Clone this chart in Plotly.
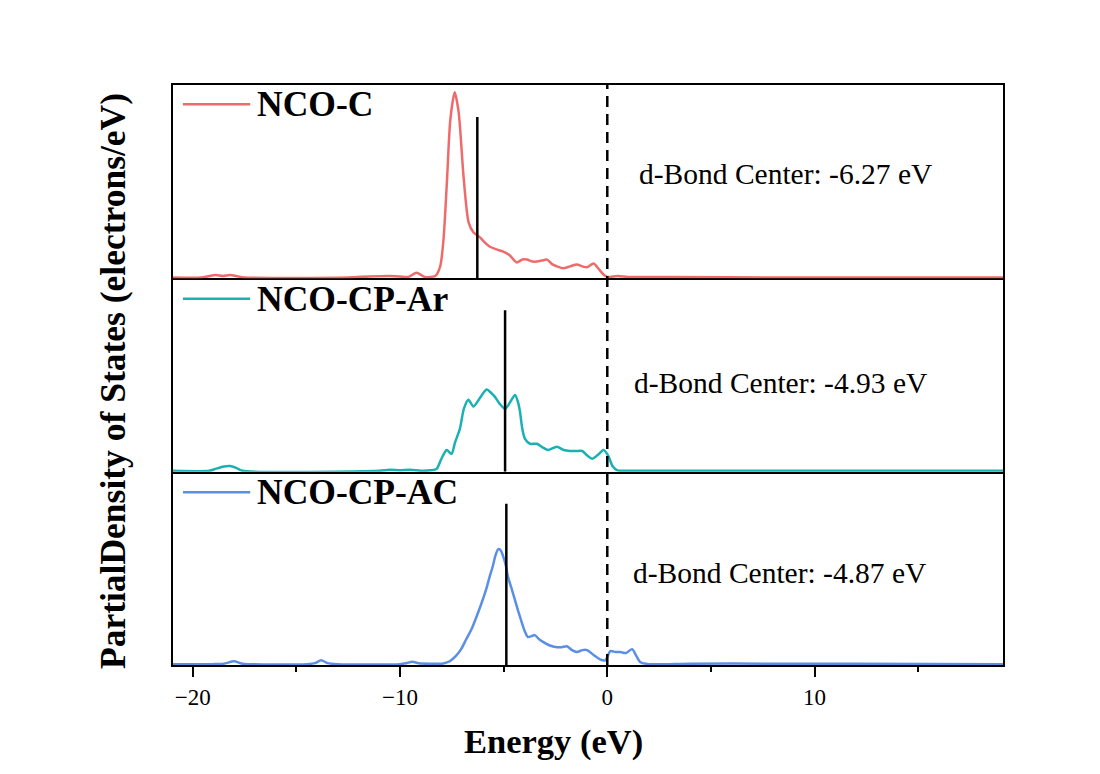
import plotly.graph_objects as go
from plotly.subplots import make_subplots

# ---------------- data ----------------
series_names = ["NCO-C", "NCO-CP-Ar", "NCO-CP-AC"]
series_colors = ["#EF6B6B", "#1BB0B3", "#5B8FE6"]
d_centers = [-6.27, -4.93, -4.87]
center_line_top = 3.32

energy_c = [-20.95, -19.6, -19.2, -18.9, -18.55, -18.2, -17.9, -17.5, -12.5, -11.5, -10.5, -10.0, -9.6,
            -9.2, -8.8, -8.3, -8.06, -7.9, -7.73, -7.57, -7.36, -7.17, -6.93, -6.69, -6.45, -6.14, -5.9,
            -5.68, -5.35, -5.04, -4.71, -4.37, -4.1, -3.88, -3.6, -3.4, -3.15, -2.9, -2.65, -2.43, -2.13,
            -1.8, -1.47, -1.2, -0.98, -0.66, -0.4, -0.18, 0.0, 0.5, 1.0, 3.0, 8.0, 19.09]
pdos_c = [0, 0, 0.03, 0.05, 0.03, 0.05, 0.03, 0, 0, 0.02, 0.03, 0.02, 0.01,
          0.10, 0.01, 0.03, 0.23, 0.79, 2.03, 3.27, 3.83, 3.42, 2.07, 1.14, 0.93, 0.83, 0.72,
          0.64, 0.58, 0.54, 0.46, 0.31, 0.37, 0.37, 0.33, 0.33, 0.35, 0.37, 0.27, 0.23, 0.19,
          0.23, 0.27, 0.23, 0.21, 0.29, 0.17, 0.06, 0.01, 0.03, 0.01, 0.01, 0.0, 0.0]

energy_ar = [-20.95, -19.2, -18.9, -18.5, -18.2, -17.9, -17.6, -11.0, -10.5, -10.0, -9.5, -9.0, -8.5,
             -8.23, -8.0, -7.75, -7.51, -7.35, -7.11, -6.92, -6.70, -6.46, -6.17, -5.82, -5.6, -5.42,
             -5.2, -4.93, -4.7, -4.45, -4.3, -4.21, -4.1, -3.97, -3.73, -3.4, -3.1, -2.86, -2.43, -2.1,
             -1.8, -1.5, -1.21, -0.95, -0.73, -0.45, -0.18, 0.05, 0.25, 0.49, 1.0, 19.09]
pdos_ar = [0, 0, 0.04, 0.09, 0.10, 0.06, 0, 0, 0.02, 0.01, 0.02, 0, 0.01,
           0.04, 0.25, 0.43, 0.35, 0.58, 0.87, 1.28, 1.47, 1.33, 1.49, 1.68, 1.61, 1.53,
           1.39, 1.28, 1.41, 1.57, 1.41, 1.22, 0.87, 0.66, 0.56, 0.56, 0.48, 0.43, 0.50, 0.43,
           0.41, 0.41, 0.41, 0.31, 0.25, 0.33, 0.43, 0.31, 0.10, 0.01, 0, 0]

energy_ac = [-20.95, -19.0, -18.5, -18.0, -17.6, -14.5, -14.1, -13.8, -13.5, -13.0, -10.0, -9.7, -9.4,
             -9.1, -8.5, -7.96, -7.6, -7.3, -7.05, -6.8, -6.55, -6.3, -6.05, -5.84, -5.68, -5.52, -5.4,
             -5.26, -5.15, -5.03, -4.9, -4.8, -4.62, -4.47, -4.3, -4.13, -3.98, -3.83, -3.65, -3.5,
             -3.3, -3.1, -2.8, -2.43, -2.2, -1.95, -1.7, -1.47, -1.2, -0.98, -0.66, -0.35, -0.1, 0.15,
             0.4, 0.63, 0.9, 1.2, 1.4, 1.6, 2.0, 4.0, 8.0, 12.0, 19.09]
pdos_ac = [0, 0, 0.01, 0.06, 0.01, 0, 0.02, 0.08, 0.02, 0, 0, 0.02, 0.05,
           0.02, 0.01, 0.01, 0.06, 0.17, 0.31, 0.52, 0.72, 0.99, 1.28, 1.55, 1.80, 2.03, 2.24,
           2.38, 2.36, 2.24, 2.05, 1.82, 1.57, 1.35, 1.10, 0.87, 0.68, 0.56, 0.58, 0.60,
           0.52, 0.46, 0.39, 0.35, 0.35, 0.37, 0.29, 0.25, 0.29, 0.29, 0.19, 0.10, 0.08, 0.27,
           0.25, 0.25, 0.23, 0.31, 0.17, 0.04, 0, 0.01, 0.01, 0.01, 0]

x_tick_vals = [-20, -10, 0, 10]
x_minor_vals = [-15, -5, 5, 15]
x_range = [-20.95, 19.09]
y_range = [-0.018, 3.982]

energies = [energy_c, energy_ar, energy_ac]
pdos = [pdos_c, pdos_ar, pdos_ac]

SERIF = "Liberation Serif, Times New Roman, serif"

fig = make_subplots(rows=3, cols=1, shared_xaxes=True, vertical_spacing=0)

for i in range(3):
    r = i + 1
    fig.add_trace(go.Scatter(x=energies[i], y=pdos[i], mode="lines", name=series_names[i],
                             line=dict(color=series_colors[i], width=2.5, shape="spline", smoothing=0.7),
                             showlegend=False), row=r, col=1)
    fig.add_trace(go.Scatter(x=[d_centers[i], d_centers[i]], y=[y_range[0], center_line_top], mode="lines",
                             line=dict(color="black", width=2.5), showlegend=False), row=r, col=1)

for i in range(3):
    r = i + 1
    last = (r == 3)
    fig.update_xaxes(range=x_range, showline=True, mirror=(r == 1), linecolor="black", linewidth=1.5,
                     showgrid=False, zeroline=False, layer="below traces",
                     ticks="outside" if last else "", showticklabels=last,
                     tickvals=x_tick_vals, ticklen=10, tickwidth=2, tickcolor="black",
                     tickfont=dict(family=SERIF, size=23, color="black"),
                     row=r, col=1)
    fig.update_yaxes(range=y_range, showline=True, mirror=True, linecolor="black", linewidth=2,
                     showgrid=False, zeroline=False, showticklabels=False, ticks="",
                     layer="below traces", row=r, col=1)

fig.update_xaxes(linewidth=2, minor=dict(tickvals=x_minor_vals, ticks="outside", ticklen=5, tickwidth=2,
                                         tickcolor="black"), row=3, col=1)

# dashed Fermi level line
fig.add_shape(type="line", xref="x", yref="paper", x0=0, x1=0, y0=0, y1=1,
              line=dict(color="black", width=2.5, dash="11px,7px"))

yrefs = ["y", "y2", "y3"]
label_y = [0.9, 0.895, 0.893]
text_pos = [(0.559, 0.54), (0.553, 0.459), (0.552, 0.476)]
for i in range(3):
    yd = yrefs[i] + " domain"
    fig.add_shape(type="line", xref="paper", yref=yd, x0=0.012, x1=0.093,
                  y0=label_y[i], y1=label_y[i], line=dict(color=series_colors[i], width=2.5))
    fig.add_annotation(xref="paper", yref=yd, x=0.099, y=label_y[i], xanchor="left", yanchor="middle",
                       text="<b>%s</b>" % series_names[i], showarrow=False,
                       font=dict(family=SERIF, size=35.5, color="black"))
    fig.add_annotation(xref="paper", yref=yd, x=text_pos[i][0], y=text_pos[i][1], xanchor="left",
                       yanchor="middle", text="d-Bond Center: %.2f eV" % d_centers[i], showarrow=False,
                       font=dict(family=SERIF, size=29.5, color="black"))

# axis titles
fig.add_annotation(xref="paper", yref="paper", x=0.458, y=-0.132, xanchor="center", yanchor="middle",
                   text="<b>Energy (eV)</b>", showarrow=False,
                   font=dict(family=SERIF, size=34.5, color="black"))
fig.add_annotation(xref="paper", yref="paper", x=-0.072, y=0.49, xanchor="center", yanchor="middle",
                   text="<b>PartialDensity of States (electrons/eV)</b>", textangle=-90, showarrow=False,
                   font=dict(family=SERIF, size=35.5, color="black"))

fig.update_layout(width=1100, height=774, margin=dict(l=173, r=97, t=85, b=109),
                  plot_bgcolor="white", paper_bgcolor="white", showlegend=False)

fig.write_html("out.html")
